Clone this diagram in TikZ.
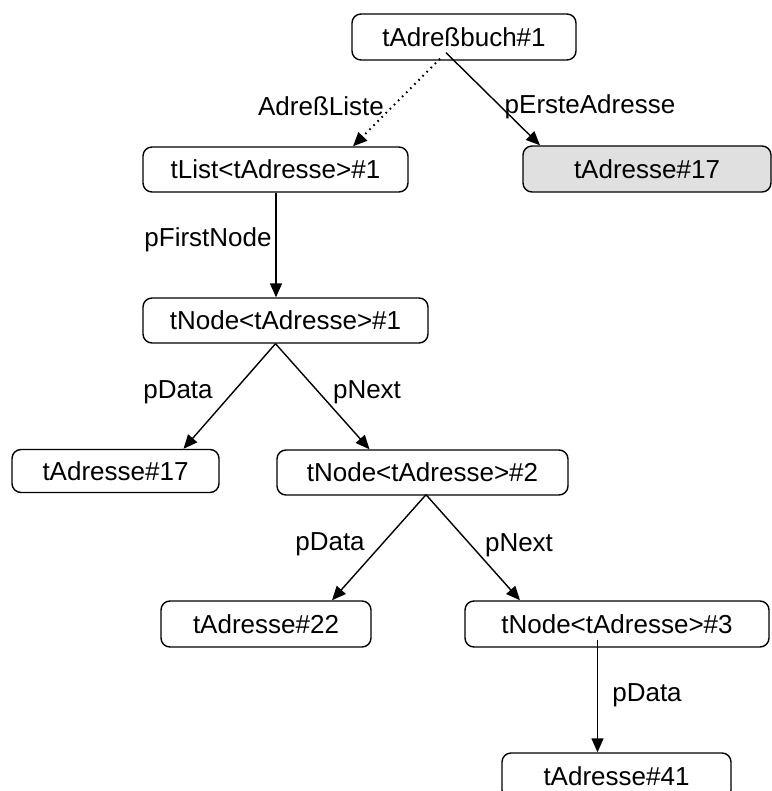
\documentclass[tikz,border=0pt]{standalone}
\usepackage{fontspec}
\setmainfont{Liberation Sans}
\usetikzlibrary{arrows.meta}
\definecolor{boxgray}{RGB}{224,224,224}
\tikzset{
  obj/.style={draw, line width=1.4pt, rounded corners=9pt, inner sep=0pt, font=\fontsize{26}{30}\selectfont},
  lbl/.style={inner sep=0pt, font=\fontsize{26}{30}\selectfont},
  conn/.style={line width=1.4pt, -{Triangle[length=14pt,width=12pt]}},
  dotconn/.style={line width=2pt, dash pattern=on 1.6pt off 4.2pt, -{Triangle[length=14pt,width=12pt]}}
}
\begin{document}
\begin{tikzpicture}[x=1pt,y=-1pt]
\useasboundingbox (0,0) rectangle (771,791);
\node[obj, minimum width=224pt, minimum height=46pt] (book) at (464,37) {tAdreßbuch\#1};
\node[obj, fill=boxgray, minimum width=248pt, minimum height=46pt] (addrR) at (647,169) {tAdresse\#17};
\node[obj, minimum width=265pt, minimum height=45pt] (list) at (275.5,169.5) {tList<tAdresse>\#1};
\node[obj, minimum width=285pt, minimum height=45pt] (node1) at (285.5,320.5) {tNode<tAdresse>\#1};
\node[obj, minimum width=207pt, minimum height=43pt] (addrL) at (115.5,471) {tAdresse\#17};
\node[obj, minimum width=291pt, minimum height=45pt] (node2) at (422.5,472.5) {tNode<tAdresse>\#2};
\node[obj, minimum width=210pt, minimum height=46pt] (addr22) at (266,624) {tAdresse\#22};
\node[obj, minimum width=304pt, minimum height=46pt] (node3) at (617,624) {tNode<tAdresse>\#3};
\node[obj, minimum width=229pt, minimum height=46pt] (addr41) at (616.5,776) {tAdresse\#41};

\draw[dotconn] ([xshift=-24pt,yshift=2pt]book.south) -- ([xshift=77.5pt]list.north);
\draw[conn] ([xshift=-18pt,yshift=8pt]book.south) -- ([xshift=-107pt]addrR.north);
\draw[conn] ([xshift=0.5pt]list.south) -- ([xshift=-9.5pt]node1.north);
\draw[conn] ([xshift=-10pt]node1.south) -- ([xshift=68pt]addrL.north);
\draw[conn] ([xshift=-10pt]node1.south) -- ([xshift=-53pt]node2.north);
\draw[conn] ([xshift=3.5pt,yshift=1pt]node2.south) -- ([xshift=66pt]addr22.north);
\draw[conn] ([xshift=3.5pt,yshift=1pt]node2.south) -- ([xshift=-97pt]node3.north);
\draw[conn] ([xshift=-19.5pt,yshift=8pt]node3.south) -- ([xshift=-19pt]addr41.north);

\node[lbl] (lAL) at (321,106) {AdreßListe};
\node[lbl] (lPE) at (590,107) {pErsteAdresse};
\node[lbl] (lFN) at (208,240) {pFirstNode};
\node[lbl] (lD1) at (178,392) {pData};
\node[lbl] (lN1) at (367,392) {pNext};
\node[lbl] (lD2) at (330,544) {pData};
\node[lbl] (lN2) at (519,545) {pNext};
\node[lbl] (lD3) at (647,695) {pData};
\end{tikzpicture}
\end{document}
